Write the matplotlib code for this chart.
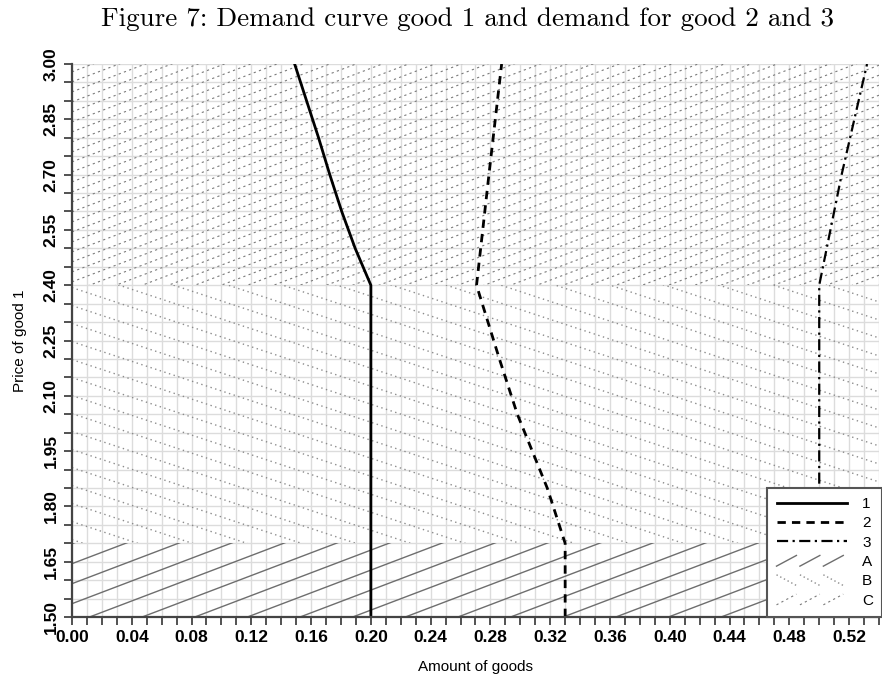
import numpy as np
import matplotlib
matplotlib.use('Agg')
import matplotlib.pyplot as plt
from matplotlib.collections import LineCollection
from matplotlib.lines import Line2D
from matplotlib.patches import Polygon, Patch
from matplotlib.legend_handler import HandlerBase
from matplotlib.ticker import MultipleLocator, FormatStrFormatter

# Demand curves (price of good 1 -> amount)
price_1 = [1.50, 2.40, 2.50, 2.60, 2.70, 2.80, 2.90, 3.00]
good_1 = [0.200, 0.200, 0.1895, 0.1805, 0.1725, 0.165, 0.157, 0.149]
price_2 = [1.50, 1.70, 1.85, 2.05, 2.20, 2.40, 2.70, 3.00]
good_2 = [0.330, 0.330, 0.318, 0.298, 0.286, 0.2707, 0.279, 0.2875]
price_3 = [1.50, 2.40, 2.70, 3.00]
good_3 = [0.500, 0.500, 0.515, 0.532]

# Shaded regimes
region_names = ['A', 'B', 'C']
region_low = [1.50, 1.70, 2.40]
region_high = [1.70, 2.40, 3.00]

XMIN, XMAX = 0.0, 0.54
YMIN, YMAX = 1.50, 3.00

# hatch style per region: (slope in px, spacing in px, linestyle, color, lw)
hatch_style = {
    'A': (0.38, 20, '-', '#6e6e6e', 1.0),
    'B': (-0.33, 18, (0, (1, 2.5)), '#8c8c8c', 1.0),
    'C': (0.38, 10, (0, (2, 3)), '#7a7a7a', 0.8),
}

plt.rcParams['font.family'] = ['Liberation Sans', 'DejaVu Sans']

fig = plt.figure(figsize=(8.82, 6.79), dpi=100)
ax = fig.add_axes([0.0816, 0.0913, 0.915, 0.8144])
ax.set_xlim(XMIN, XMAX)
ax.set_ylim(YMIN, YMAX)

# pixel scale of the data axes
ax_w_px = fig.get_figwidth() * fig.dpi * 0.915
ax_h_px = fig.get_figheight() * fig.dpi * 0.8144
sx = ax_w_px / (XMAX - XMIN)
sy = ax_h_px / (YMAX - YMIN)

# grid
ax.xaxis.set_major_locator(MultipleLocator(0.04))
ax.xaxis.set_minor_locator(MultipleLocator(0.01))
ax.yaxis.set_major_locator(MultipleLocator(0.15))
ax.yaxis.set_minor_locator(MultipleLocator(0.05))
ax.xaxis.set_major_formatter(FormatStrFormatter('%.2f'))
ax.yaxis.set_major_formatter(FormatStrFormatter('%.2f'))
ax.grid(True, which='both', color='#dcdcdc', linewidth=1.0, zorder=0)
ax.set_axisbelow(True)

# hatched regions
for name, lo, hi in zip(region_names, region_low, region_high):
    slope, spacing, ls, col, lw = hatch_style[name]
    clip = Polygon([(XMIN, lo), (XMAX, lo), (XMAX, hi), (XMIN, hi)], closed=True,
                   transform=ax.transData, facecolor='none', edgecolor='none')
    ax.add_patch(clip)
    lo_px, hi_px = (lo - YMIN) * sy, (hi - YMIN) * sy
    rise = slope * ax_w_px
    starts = np.arange(lo_px - abs(rise) - spacing, hi_px + abs(rise) + spacing, spacing)
    segs = []
    for s in starts:
        segs.append([(XMIN, YMIN + s / sy), (XMAX, YMIN + (s + rise) / sy)])
    lc = LineCollection(segs, colors=col, linewidths=lw, linestyles=[ls], zorder=1)
    ax.add_collection(lc)
    lc.set_clip_path(clip)

# demand curves
ax.plot(good_1, price_1, color='black', lw=2.0, ls='-', zorder=3)
ax.plot(good_2, price_2, color='black', lw=2.0, ls=(0, (3, 2.2)), zorder=3)
ax.plot(good_3, price_3, color='black', lw=1.6, ls=(0, (5, 2, 1, 2)), zorder=3)

# axes styling
for side in ['top', 'right']:
    ax.spines[side].set_visible(False)
for side in ['left', 'bottom']:
    ax.spines[side].set_color('#444444')
    ax.spines[side].set_linewidth(1.6)
    ax.spines[side].set_zorder(4)
ax.tick_params(which='both', direction='out', length=6, width=1.3, color='#444444')
ax.tick_params(axis='both', labelsize=12.5)
for lab in ax.get_xticklabels() + ax.get_yticklabels():
    lab.set_fontweight('bold')
for lab in ax.get_yticklabels():
    lab.set_rotation(90)
    lab.set_va('center')
ax.set_xlabel('Amount of goods', fontsize=11, labelpad=11)
ax.set_ylabel('Price of good 1', fontsize=11, labelpad=12)

fig.suptitle('Figure 7: Demand curve good 1 and demand for good 2 and 3',
             fontfamily='cmr10', fontsize=19.5, x=0.53, y=0.99)


class HatchHandler(HandlerBase):
    def __init__(self, slope_up, ls, color, lw):
        super().__init__()
        self.slope_up = slope_up
        self.ls = ls
        self.color = color
        self.lw = lw

    def create_artists(self, legend, orig_handle, xdescent, ydescent,
                       width, height, fontsize, trans):
        arts = []
        seg_w = width / 3.0
        for i in range(3):
            xa = -xdescent + i * seg_w
            xb = xa + seg_w * 0.85
            ya, yb = -ydescent, -ydescent + height
            if not self.slope_up:
                ya, yb = yb, ya
            ln = Line2D([xa, xb], [ya, yb], color=self.color, lw=self.lw, ls=self.ls)
            ln.set_transform(trans)
            arts.append(ln)
        return arts


h1 = Line2D([], [], color='black', lw=2.0, ls='-')
h2 = Line2D([], [], color='black', lw=2.0, ls=(0, (3, 2.2)))
h3 = Line2D([], [], color='black', lw=1.6, ls=(0, (5, 2, 1, 2)))
hA, hB, hC = Patch(), Patch(), Patch()
handler_map = {
    hA: HatchHandler(True, '-', '#6e6e6e', 1.0),
    hB: HatchHandler(False, (0, (1, 2)), '#8c8c8c', 1.0),
    hC: HatchHandler(True, (0, (2, 3)), '#7a7a7a', 0.8),
}
leg = ax.legend([h1, h2, h3, hA, hB, hC], ['1', '2', '3'] + region_names,
                handler_map=handler_map, loc='lower right', bbox_to_anchor=(1.004, 0.0),
                borderaxespad=0, fancybox=False, framealpha=1, edgecolor='#555555',
                fontsize=11, handlelength=4.6, handletextpad=1.0, labelspacing=0.35,
                borderpad=0.6)
leg.get_frame().set_linewidth(1.5)
leg.set_zorder(5)

fig.savefig('out.png', dpi=100)
